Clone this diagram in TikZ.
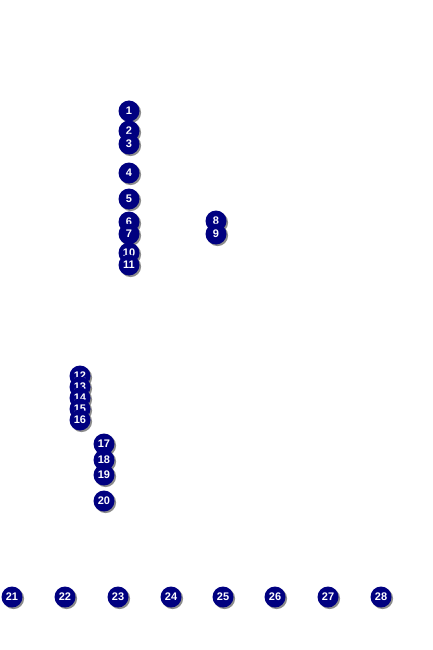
\documentclass[tikz,border=0pt]{standalone}
\usepackage{fontspec}
\setmainfont{Liberation Sans}
\usetikzlibrary{shadows}

\begin{document}
\begin{tikzpicture}[x=1pt, y=-1pt,
    ball/.style={circle, fill=Navy, minimum size=21pt, inner sep=0pt,
        text=white, font=\fontsize{11}{11}\selectfont\bfseries,
        drop shadow={shadow xshift=1.6pt, shadow yshift=-1.6pt,
            fill=black!45, opacity=1}}]
    \definecolor{Navy}{HTML}{000080}
    \useasboundingbox (0,0) rectangle (433,650);
    \foreach \n/\px/\py in {1/129/111, 2/129/131, 3/129/144, 4/129/173,
        5/129/199, 6/129/222, 7/129/234, 8/216/221, 9/216/234,
        10/129/253, 11/129/265, 12/80/376, 13/80/387, 14/80/398,
        15/80/409, 16/80/420, 17/104/444, 18/104/460, 19/104/475,
        20/104/501, 21/12/597, 22/65/597, 23/118/597, 24/171/597,
        25/223/597, 26/275/597, 27/328/597, 28/381/597}{
        \node[ball] (b\n) at (\px,\py) {\n};
    }
\end{tikzpicture}
\end{document}
